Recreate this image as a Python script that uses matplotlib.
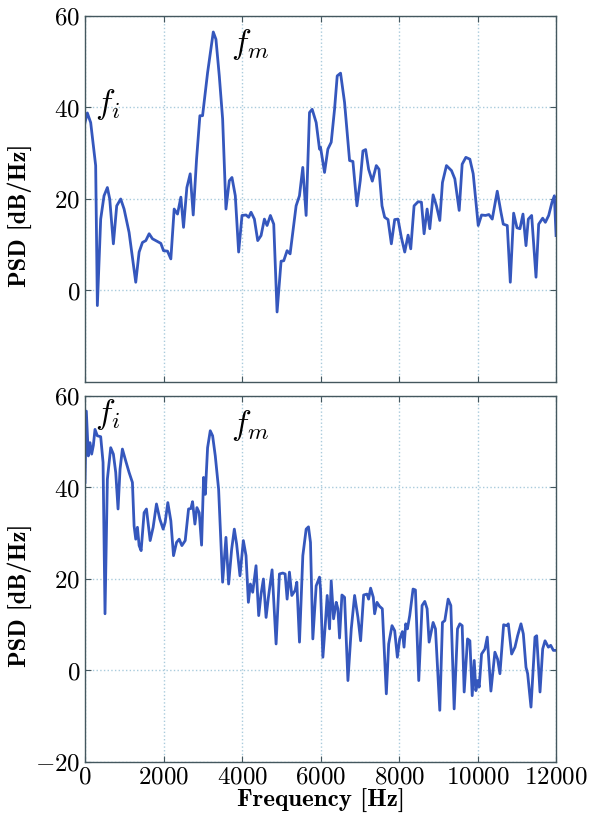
import matplotlib
matplotlib.use("Agg")
import matplotlib.pyplot as plt

plt.rcParams['font.family'] = 'cmr10'
plt.rcParams['mathtext.fontset'] = 'cm'
plt.rcParams['axes.formatter.use_mathtext'] = True

# top panel: PSD
freq_top = [0, 60, 145, 272, 315, 400, 485, 570, 630, 723, 808, 910, 996, 1123, 1293,
            1379, 1464, 1549, 1634, 1719, 1847, 1932, 2000, 2102, 2187, 2272, 2357, 2442,
            2510, 2595, 2680, 2757, 2842, 2927, 2995, 3123, 3268, 3336, 3421, 3506, 3591,
            3676, 3744, 3829, 3914, 4000, 4102, 4170, 4230, 4315, 4400, 4485, 4570, 4638,
            4723, 4808, 4893, 4995, 5063, 5148, 5225, 5293, 5378, 5463, 5548, 5633, 5719,
            5787, 5889, 5974, 6000, 6102, 6187, 6272, 6357, 6425, 6510, 6612, 6740, 6825,
            6927, 7012, 7080, 7149, 7225, 7319, 7421, 7489, 7566, 7634, 7719, 7804, 7889,
            7974, 8059, 8145, 8230, 8298, 8383, 8485, 8570, 8638, 8715, 8783, 8868, 8953,
            9038, 9106, 9208, 9336, 9421, 9532, 9608, 9702, 9804, 9889, 10017, 10102, 10204,
            10289, 10374, 10502, 10596, 10655, 10757, 10834, 10919, 11004, 11080, 11157,
            11234, 11293, 11378, 11489, 11557, 11659, 11727, 11812, 11897, 11957, 12000]
psd_top = [36.7, 38.8, 36.7, 27.3, -3.3, 15.6, 20.7, 22.5, 20.0, 10.2, 18.5, 20.0, 17.8, 12.7, 1.8,
           8.4, 10.5, 10.9, 12.4, 11.3, 10.7, 10.3, 8.7, 8.6, 6.9, 17.8, 16.7, 20.4,
           13.8, 22.5, 25.5, 16.5, 28.7, 38.2, 38.2, 47.6, 56.5, 54.9, 46.9, 37.5, 17.8,
           24.0, 24.7, 20.7, 8.4, 16.4, 16.5, 16.0, 17.1, 15.6, 10.9, 12.0, 15.6, 14.2,
           16.4, 14.5, -4.7, 6.4, 6.5, 8.7, 8.0, 12.7, 18.5, 20.7, 26.9, 16.4, 38.9,
           39.6, 36.7, 30.9, 31.3, 25.8, 30.9, 32.4, 39.6, 46.9, 47.5, 41.1, 28.4, 28.2,
           18.5, 24.0, 30.5, 30.8, 26.5, 23.9, 27.3, 26.5, 18.5, 16.0, 15.5, 10.2, 15.5,
           15.6, 11.6, 8.4, 12.1, 9.1, 18.5, 19.4, 19.3, 12.4, 17.8, 13.5, 20.9, 18.5,
           15.3, 23.6, 27.3, 26.2, 24.4, 17.5, 27.6, 29.1, 28.7, 25.5, 14.2, 16.5, 16.4,
           16.6, 15.6, 21.7, 17.1, 14.5, 14.2, 1.8, 16.9, 13.7, 13.5, 16.7,
           9.8, 15.6, 16.4, 2.9, 14.5, 15.8, 14.9, 16.4, 19.3, 20.7, 12.0]

# bottom panel
freq_bot = [0, 34, 85, 128, 170, 213, 255, 315, 400, 460, 510, 570, 655, 723, 783, 842,
            893, 953, 1038, 1123, 1208, 1251, 1293, 1336, 1379, 1430, 1506, 1566, 1660,
            1736, 1821, 1906, 1991, 2042, 2110, 2187, 2255, 2332, 2400, 2468, 2553, 2638,
            2698, 2740, 2800, 2851, 2910, 2970, 3021, 3064, 3123, 3191, 3251, 3319, 3404,
            3506, 3591, 3659, 3736, 3804, 3863, 3948, 4034, 4102, 4162, 4213, 4272, 4357,
            4425, 4485, 4545, 4613, 4672, 4766, 4868, 4953, 5038, 5098, 5149, 5208, 5268,
            5353, 5396, 5464, 5549, 5634, 5693, 5744, 5804, 5889, 5974, 6000, 6060, 6119,
            6170, 6230, 6272, 6332, 6400, 6442, 6485, 6545, 6612, 6698, 6783, 6868, 6953,
            7021, 7098, 7183, 7225, 7276, 7344, 7378, 7438, 7506, 7574, 7676, 7736, 7821,
            7889, 7957, 8017, 8085, 8127, 8170, 8213, 8272, 8357, 8417, 8502, 8587, 8655,
            8715, 8766, 8868, 8928, 9038, 9106, 9166, 9251, 9319, 9404, 9489, 9549, 9608,
            9659, 9745, 9804, 9864, 9915, 9957, 10000, 10042, 10102, 10187, 10247, 10340,
            10442, 10510, 10570, 10664, 10740, 10783, 10868, 10953, 11021, 11106, 11166,
            11234, 11276, 11361, 11463, 11506, 11591, 11659, 11719, 11804, 11863, 11931, 12000]
psd_bot = [41.1, 56.7, 46.9, 49.8, 47.3, 49.2, 52.7, 51.3, 51.1, 45.5, 12.4, 41.8, 48.7, 47.3, 43.3, 35.3,
           44.0, 48.4, 45.8, 43.3, 41.1, 31.6, 28.7, 31.3, 27.3, 26.2, 34.5, 35.3, 28.4,
           31.3, 36.4, 33.1, 30.9, 32.4, 36.7, 32.7, 25.1, 28.0, 28.7, 27.3, 28.4, 35.3,
           35.4, 36.9, 32.0, 35.6, 34.5, 27.4, 42.2, 38.5, 48.7, 52.4, 51.3, 46.9, 39.6,
           19.3, 29.1, 18.9, 26.5, 30.9, 27.6, 20.7, 28.4, 25.1, 14.9, 18.9, 17.1, 22.9,
           12.0, 16.7, 20.0, 11.6, 16.0, 22.0, 5.8, 21.1, 21.3, 21.1, 15.6, 21.5, 16.4,
           17.5, 19.3, 6.2, 25.1, 30.9, 31.4, 28.0, 6.9, 18.5, 20.4, 17.8, 2.9, 9.8,
           16.4, 9.1, 19.6, 11.3, 14.9, 13.5, 7.1, 16.5, 16.0, -2.2, 9.1, 16.4, 11.6,
           6.5, 16.5, 16.7, 15.6, 18.0, 16.0, 12.4, 14.9, 14.0, 13.5, -5.1, 5.8, 9.8,
           8.7, 2.9, 6.9, 8.5, 5.1, 10.2, 9.1, 12.0, 17.8, 17.6, -2.2, 14.2, 15.1,
           13.5, 6.2, 10.5, 9.1, -8.7, 10.5, 10.9, 15.6, 14.2, -8.4, 9.1, 10.2, 9.8,
           -4.7, 6.9, 6.5, -5.5, 2.2, -4.4, -2.2, -3.6, 3.6, 4.7, 7.3, -4.5,
           4.0, 2.5, -0.7, 10.0, 9.8, 10.2, 3.6, 5.1, 7.6, 10.2, 8.0,
           0.7, -0.7, -8.0, 7.3, 7.6, -4.7, 4.7, 6.5, 5.1, 5.5, 4.4, 4.4]

xticks = [0, 2000, 4000, 6000, 8000, 10000, 12000]

line_col = '#3557bd'
grid_col = '#a9cbdc'
spine_col = '#44575e'

fig = plt.figure(figsize=(5.96, 8.19), dpi=100)
ax1 = fig.add_axes([0.1426, 0.5336, 0.7904, 0.4469])
ax2 = fig.add_axes([0.1426, 0.0696, 0.7904, 0.4469])

for ax, f, p in [(ax1, freq_top, psd_top), (ax2, freq_bot, psd_bot)]:
    ax.plot(f, p, color=line_col, lw=2.0)
    ax.set_xlim(0, 12000)
    ax.set_ylim(-20, 60)
    ax.set_xticks(xticks)
    ax.grid(True, ls=':', color=grid_col, lw=1.0)
    ax.tick_params(direction='in', top=True, right=True, length=4,
                   labelsize=18, color=spine_col)
    for s in ax.spines.values():
        s.set_color(spine_col)
        s.set_linewidth(1.0)
    ax.set_ylabel('PSD [dB/Hz]', family='cmb10', fontsize=17.5)
    ax.yaxis.set_label_coords(-0.112, 0.455)

ax1.set_yticks([0, 20, 40, 60])
ax1.tick_params(labelbottom=False)
ax2.set_yticks([-20, 0, 20, 40, 60])
ax2.set_xlabel('Frequency [Hz]', family='cmb10', fontsize=18, labelpad=0)

ax1.text(586, 40.7, r'$f_i$', fontsize=24, ha='center', va='center')
ax1.text(4200, 53.8, r'$f_m$', fontsize=24, ha='center', va='center')
ax2.text(586, 56, r'$f_i$', fontsize=24, ha='center', va='center')
ax2.text(4200, 53.5, r'$f_m$', fontsize=24, ha='center', va='center')

fig.savefig('out.png', dpi=100)
